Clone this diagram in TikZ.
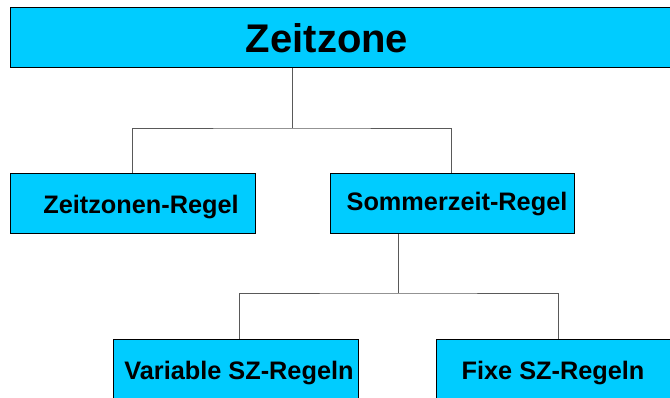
\documentclass[tikz,border=0pt]{standalone}
\usepackage{fontspec}
\setmainfont{Liberation Sans}
\begin{document}
\begin{tikzpicture}[x=1pt,y=-1pt,
  box/.style={draw=black,line width=0.9pt,fill=boxblue,rectangle,inner sep=0pt,anchor=north west},
  lbl/.style={inner sep=0pt,anchor=base,font=\bfseries\fontsize{25.3}{26}\selectfont},
  link/.style={draw=black!65,line width=1pt}]
\definecolor{boxblue}{HTML}{00CCFF}
\useasboundingbox (0,0) rectangle (670,397);
% boxes
\node[box,minimum width=675pt,minimum height=60pt] (top) at (10,7) {};
\node[box,minimum width=245pt,minimum height=60pt] (zr) at (10,173) {};
\node[box,minimum width=244pt,minimum height=60pt] (sr) at (330,173) {};
\node[box,minimum width=245pt,minimum height=70pt] (vr) at (113,339) {};
\node[box,minimum width=245pt,minimum height=70pt] (fr) at (436,339) {};
% labels
\node[lbl,font=\bfseries\fontsize{40}{40}\selectfont] (tTop) at (327,52) {Zeitzone};
\node[lbl] (tZr) at (141,213) {Zeitzonen-Regel};
\node[lbl] (tSr) at (457,210) {Sommerzeit-Regel};
\node[lbl] (tVr) at (239,379) {Variable SZ-Regeln};
\node[lbl] (tFr) at (553,379) {Fixe SZ-Regeln};
% connectors
\coordinate (j1) at (292,128);
\coordinate (j2) at (398,293);
\draw[link] (top.south -| j1) -- (j1);
\draw[link] (zr.north) |- (j1) -| (451,173);
\draw[link] (sr.south -| j2) -- (j2);
\draw[link] (vr.north -| 239,0) |- (j2) -| (fr.north -| 558,0);
\end{tikzpicture}
\end{document}
